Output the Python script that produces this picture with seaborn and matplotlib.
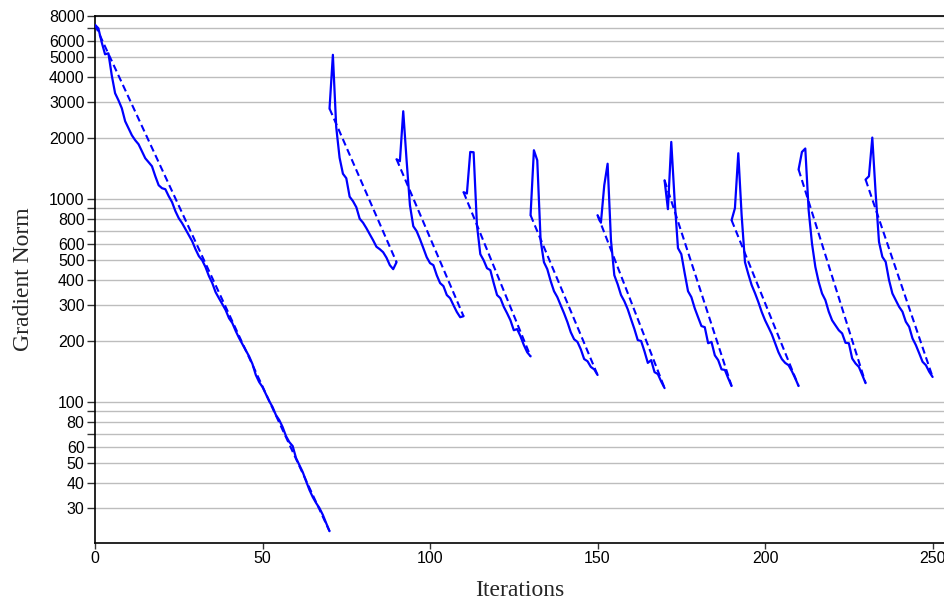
import numpy as np
import pandas as pd
import matplotlib
matplotlib.use("Agg")
import matplotlib.pyplot as plt
import seaborn as sns

# First iteration of each restart
run_starts = [0, 70, 90, 110, 130, 150, 170, 190, 210, 230]

# Gradient norm per iteration for each run
run_0 = [7240, 6960, 5935, 5180, 5240, 4080, 3329, 3074, 2808, 2423,
         2238, 2067, 1953, 1866, 1724, 1592, 1522, 1454, 1298, 1172,
         1133, 1120, 1035, 967, 873, 806, 762, 712, 665, 621,
         567, 524, 500, 462, 418, 386, 348, 325, 304, 284,
         259, 245, 224, 207, 193, 180, 168, 154, 136, 125.5,
         118.6, 109.5, 101.1, 94.5, 86.3, 81.5, 75.3, 68.0, 63.5, 60.7,
         53.0, 48.9, 45.2, 40.8, 36.9, 34.0, 31.8, 30.0, 27.8, 25.3,
         23.1]
run_1 = [2797, 5150, 2263, 1601, 1335, 1269, 1029, 978, 913, 801,
         766, 720, 672, 628, 583, 567, 548, 515, 473, 452, 489]
run_2 = [1574, 1539, 2714, 1556, 934, 736, 696, 635, 574, 518,
         484, 473, 422, 386, 373, 337, 325, 300, 278, 262, 265]
run_3 = [1083, 1067, 1710, 1704, 745, 536, 500, 457, 447, 386,
         337, 325, 295, 274, 253, 226, 229, 211, 191, 176, 168]
run_4 = [834, 1743, 1556, 628, 489, 452, 395, 352, 329, 300,
         274, 248, 221, 204, 198, 182, 163, 159, 149, 145, 136]
run_5 = [834, 766, 1172, 1496, 628, 422, 381, 337, 314, 287,
         256, 229, 202, 200, 178, 156, 161, 140.5, 137.4, 126.2, 117.2]
run_6 = [1240, 893, 1916, 989, 574, 536, 432, 352, 329, 290,
         262, 237, 234, 195, 198, 170, 161, 145, 144, 131, 120]
run_7 = [788, 903, 1685, 834, 489, 427, 377, 344, 311, 278,
         253, 234, 216, 195, 176, 163, 156, 152, 142, 131, 120]
run_8 = [1401, 1710, 1778, 883, 605, 464, 391, 343, 318, 279,
         253, 239, 226, 218, 196, 195, 164, 155, 149, 136, 124]
run_9 = [1250, 1298, 2013, 1070, 616, 520, 491, 399, 343, 318,
         295, 279, 249, 235, 206, 191, 174, 158, 152, 141, 133]

runs = [run_0, run_1, run_2, run_3, run_4, run_5, run_6, run_7, run_8, run_9]

y_major_ticks = [30, 40, 50, 60, 80, 100, 200, 300, 400, 500, 600, 800,
                 1000, 2000, 3000, 4000, 5000, 6000, 8000]
y_minor_ticks = [70, 90, 700, 900, 7000]
x_ticks = [0, 50, 100, 150, 200, 250]

# Long-form tables: every iteration, and the first/last point of each run
rows = []
for k, (start, values) in enumerate(zip(run_starts, runs)):
    for i, v in enumerate(values):
        rows.append({"run": k, "iteration": start + i, "norm": v})
df = pd.DataFrame(rows)
ends = df.groupby("run", group_keys=False).apply(lambda g: g.iloc[[0, -1]])

sns.set_style("ticks")
plt.rcParams["font.family"] = ["Liberation Sans", "DejaVu Sans"]

fig = plt.figure(figsize=(9.45, 6.03), dpi=100)
ax = fig.add_axes([95 / 945, 60 / 603, 850 / 945, 527 / 603])
ax.set_yscale("log")

blue = "#0000ff"
sns.lineplot(data=ends, x="iteration", y="norm", units="run", estimator=None,
             color=blue, lw=1.5, linestyle=(0, (3.4, 1.9)), ax=ax,
             legend=False, zorder=3)
sns.lineplot(data=df, x="iteration", y="norm", units="run", estimator=None,
             color=blue, lw=1.6, ax=ax, legend=False, zorder=4)

ax.set_xlim(0, 253.7)
ax.set_ylim(20.2, 8000)

ax.set_yticks(y_major_ticks)
ax.set_yticklabels([str(t) for t in y_major_ticks])
ax.set_yticks(y_minor_ticks, minor=True)
ax.set_yticklabels([], minor=True)
ax.set_xticks(x_ticks)
ax.set_xticklabels([str(t) for t in x_ticks])

ax.tick_params(axis="y", which="both", length=6, width=1, color="#333333",
               pad=1.5, labelsize=11.5, labelcolor="black")
ax.tick_params(axis="x", which="both", length=4, width=1, color="#333333",
               pad=1.5, labelsize=11.5, labelcolor="black")

ax.yaxis.grid(True, which="both", color="#bdbdbd", lw=1.0)
ax.xaxis.grid(False)
ax.set_axisbelow(True)

for side in ["left", "bottom", "top"]:
    ax.spines[side].set_visible(True)
    ax.spines[side].set_color("black")
    ax.spines[side].set_linewidth(1.2)
ax.spines["right"].set_visible(False)

serif = ["Liberation Serif", "DejaVu Serif"]
ax.set_xlabel("Iterations", family=serif, fontsize=17, labelpad=10)
ax.set_ylabel("Gradient Norm", family=serif, fontsize=17, labelpad=11)

fig.savefig("out.png", dpi=100)
